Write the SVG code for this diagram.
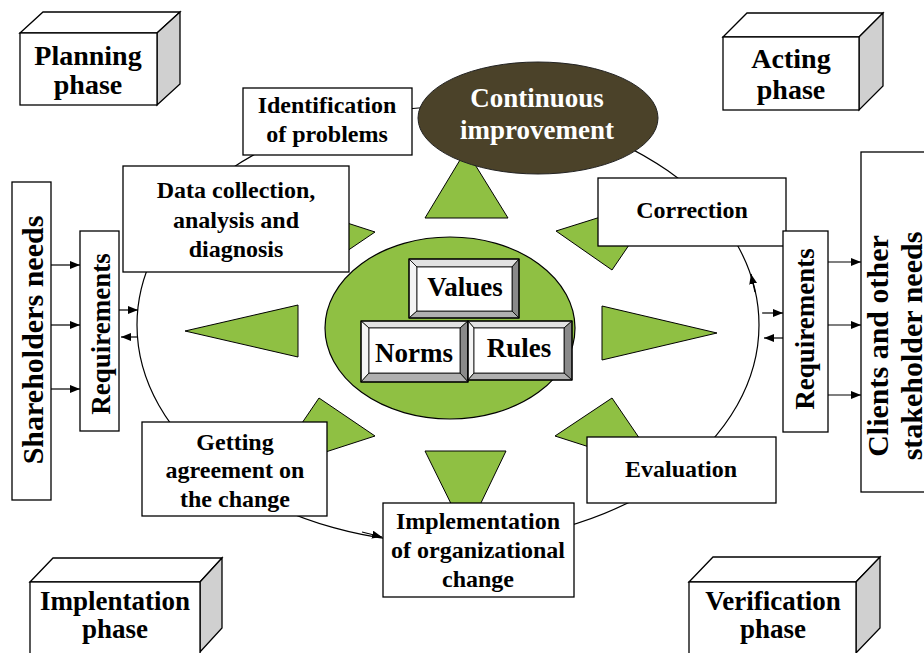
<svg xmlns="http://www.w3.org/2000/svg" width="924" height="653" viewBox="0 0 924 653">
<defs>
<style>
.box{fill:#fff;stroke:#000;stroke-width:1.3}
.side{fill:#d0d0d0;stroke:#000;stroke-width:1.3}
.tri{fill:#8fc043;stroke:#000;stroke-width:1}
.ln{fill:none;stroke:#000;stroke-width:1.2}
.t{font-family:"Liberation Serif","Times New Roman",serif;font-weight:bold;text-anchor:middle;fill:#000}
.s24{font-size:24px}
.s27{font-size:27px}
.s28{font-size:28px}
.s30{font-size:30px}
.bl{fill:#f4f4f4;stroke:#000;stroke-width:0.8}
.bt{fill:#e2e2e2;stroke:#000;stroke-width:0.8}
.br{fill:#8a8a8a;stroke:#000;stroke-width:0.8}
.bb{fill:#b0b0b0;stroke:#000;stroke-width:0.8}
</style>
<marker id="ah" markerUnits="userSpaceOnUse" markerWidth="11" markerHeight="9" refX="10" refY="4" orient="auto">
<path d="M0,0 L10,4 L0,8 z" fill="#000"/>
</marker>
</defs>
<rect width="924" height="653" fill="#fff"/>

<g id="connectors">
<ellipse class="ln" cx="448" cy="325" rx="311" ry="218"/>
<path class="ln" d="M755,292 L751,274" marker-end="url(#ah)"/>
<path class="ln" d="M362,532 L382,537" marker-end="url(#ah)"/>
<path class="ln" d="M51,265 L80,265" marker-end="url(#ah)"/>
<path class="ln" d="M51,325 L80,325" marker-end="url(#ah)"/>
<path class="ln" d="M51,389 L80,389" marker-end="url(#ah)"/>
<path class="ln" d="M119,310 L138,310" marker-end="url(#ah)"/>
<path class="ln" d="M137,337 L121,337" marker-end="url(#ah)"/>
<path class="ln" d="M762,313 L783,313" marker-end="url(#ah)"/>
<path class="ln" d="M783,338 L764,338" marker-end="url(#ah)"/>
<path class="ln" d="M828,262 L861,262" marker-end="url(#ah)"/>
<path class="ln" d="M828,325 L861,325" marker-end="url(#ah)"/>
<path class="ln" d="M828,395 L861,395" marker-end="url(#ah)"/>
</g>

<g id="arrows-star">
<polygon class="tri" points="425,218 508,218 466,150"/>
<polygon class="tri" points="425,451 506,451 466,534"/>
<polygon class="tri" points="298,305 298,357 185,331"/>
<polygon class="tri" points="602,306 602,360 717,333"/>
<polygon class="tri" points="375,232 319,270 270,198"/>
<polygon class="tri" points="556,231 612,270 661,198"/>
<polygon class="tri" points="375,436 319,398 270,470"/>
<polygon class="tri" points="555,436 612,398 661,470"/>
</g>

<g id="core">
<ellipse cx="450" cy="328" rx="125" ry="91" fill="#8fc043" stroke="#000" stroke-width="1.2"/>
</g>

<g id="values">
<polygon class="bt" points="409,259 519,259 512,267 417,267"/>
<polygon class="bl" points="409,259 417,267 417,311 409,318"/>
<polygon class="br" points="519,259 519,318 512,311 512,267"/>
<polygon class="bb" points="409,318 417,311 512,311 519,318"/>
<rect x="417" y="267" width="95" height="44" fill="#fff" stroke="#000" stroke-width="0.8"/>
<rect x="409" y="259" width="110" height="59" fill="none" stroke="#000" stroke-width="1.3"/>
<text class="t s27" x="465" y="296">Values</text>
</g>

<g id="norms">
<polygon class="bt" points="361,321 468,321 460,328 369,328"/>
<polygon class="bl" points="361,321 369,328 369,373 361,382"/>
<polygon class="br" points="468,321 468,382 460,373 460,328"/>
<polygon class="bb" points="361,382 369,373 460,373 468,382"/>
<rect x="369" y="328" width="91" height="45" fill="#fff" stroke="#000" stroke-width="0.8"/>
<rect x="361" y="321" width="107" height="61" fill="none" stroke="#000" stroke-width="1.3"/>
<text class="t s27" x="414" y="362">Norms</text>
</g>

<g id="rules">
<polygon class="bt" points="468,321 572,321 564,328 474,328"/>
<polygon class="bl" points="468,321 474,328 474,373 468,380"/>
<polygon class="br" points="572,321 572,380 564,373 564,328"/>
<polygon class="bb" points="468,380 474,373 564,373 572,380"/>
<rect x="474" y="328" width="90" height="45" fill="#fff" stroke="#000" stroke-width="0.8"/>
<rect x="468" y="321" width="104" height="59" fill="none" stroke="#000" stroke-width="1.3"/>
<text class="t s27" x="519" y="357">Rules</text>
</g>

<g id="continuous-improvement">
<ellipse cx="538" cy="118" rx="120" ry="56" fill="#4b4229" stroke="#222" stroke-width="1"/>
<text class="t s27" x="537" y="107" style="fill:#fff">Continuous</text>
<text class="t s27" x="537" y="139" style="fill:#fff">improvement</text>
</g>

<g id="identification">
<rect class="box" x="243" y="88" width="169" height="67"/>
<text class="t s24" x="327" y="113">Identification</text>
<text class="t s24" x="327" y="142">of problems</text>
</g>

<g id="data-collection">
<rect class="box" x="123" y="166" width="226" height="106"/>
<text class="t s24" x="236" y="198">Data collection,</text>
<text class="t s24" x="236" y="228">analysis and</text>
<text class="t s24" x="236" y="257">diagnosis</text>
</g>

<g id="correction">
<rect class="box" x="598" y="178" width="188" height="68"/>
<text class="t s24" x="692" y="218">Correction</text>
</g>

<g id="evaluation">
<rect class="box" x="587" y="437" width="189" height="66"/>
<text class="t s24" x="681" y="477">Evaluation</text>
</g>

<g id="getting-agreement">
<rect class="box" x="142" y="422" width="185" height="94"/>
<text class="t s24" x="235" y="450">Getting</text>
<text class="t s24" x="235" y="478">agreement on</text>
<text class="t s24" x="235" y="507">the change</text>
</g>

<g id="implementation">
<rect class="box" x="383" y="503" width="191" height="94"/>
<text class="t s24" x="478" y="529">Implementation</text>
<text class="t s24" x="478" y="558">of organizational</text>
<text class="t s24" x="478" y="587">change</text>
</g>

<g id="shareholders-needs">
<rect class="box" x="12" y="182" width="39" height="318"/>
<text class="t s30" transform="translate(43,340) rotate(-90)">Shareholders needs</text>
</g>

<g id="requirements-left">
<rect class="box" x="80" y="231" width="39" height="200"/>
<text class="t s27" transform="translate(110,334) rotate(-90)">Requirements</text>
</g>

<g id="requirements-right">
<rect class="box" x="783" y="231" width="45" height="201"/>
<text class="t s27" transform="translate(814,329) rotate(-90)">Requirements</text>
</g>

<g id="clients-needs">
<rect class="box" x="861" y="152" width="80" height="340"/>
<text class="t s30" transform="translate(888,346) rotate(-90)">Clients and other</text>
<text class="t s30" transform="translate(922,346) rotate(-90)">stakeholder needs</text>
</g>

<g id="planning-phase">
<polygon class="box" points="20,33 43,12 180,12 157,33"/>
<polygon class="side" points="157,33 180,12 180,84 157,105"/>
<rect class="box" x="20" y="33" width="137" height="72"/>
<text class="t s28" x="88" y="65">Planning</text>
<text class="t s28" x="88" y="94">phase</text>
</g>

<g id="acting-phase">
<polygon class="box" points="723,37 747,13 883,13 859,37"/>
<polygon class="side" points="859,37 883,13 883,86 859,110"/>
<rect class="box" x="723" y="37" width="136" height="73"/>
<text class="t s28" x="791" y="68">Acting</text>
<text class="t s28" x="791" y="99">phase</text>
</g>

<g id="implentation-phase">
<polygon class="box" points="30,582 53,558 222,558 200,582"/>
<polygon class="side" points="200,582 222,558 222,628 200,652"/>
<rect class="box" x="30" y="582" width="170" height="75"/>
<text class="t s27" x="115" y="610">Implentation</text>
<text class="t s27" x="115" y="638">phase</text>
</g>

<g id="verification-phase">
<polygon class="box" points="689,582 713,557 880,557 856,582"/>
<polygon class="side" points="856,582 880,557 880,628 856,653"/>
<rect class="box" x="689" y="582" width="167" height="75"/>
<text class="t s27" x="773" y="610">Verification</text>
<text class="t s27" x="773" y="638">phase</text>
</g>
</svg>
